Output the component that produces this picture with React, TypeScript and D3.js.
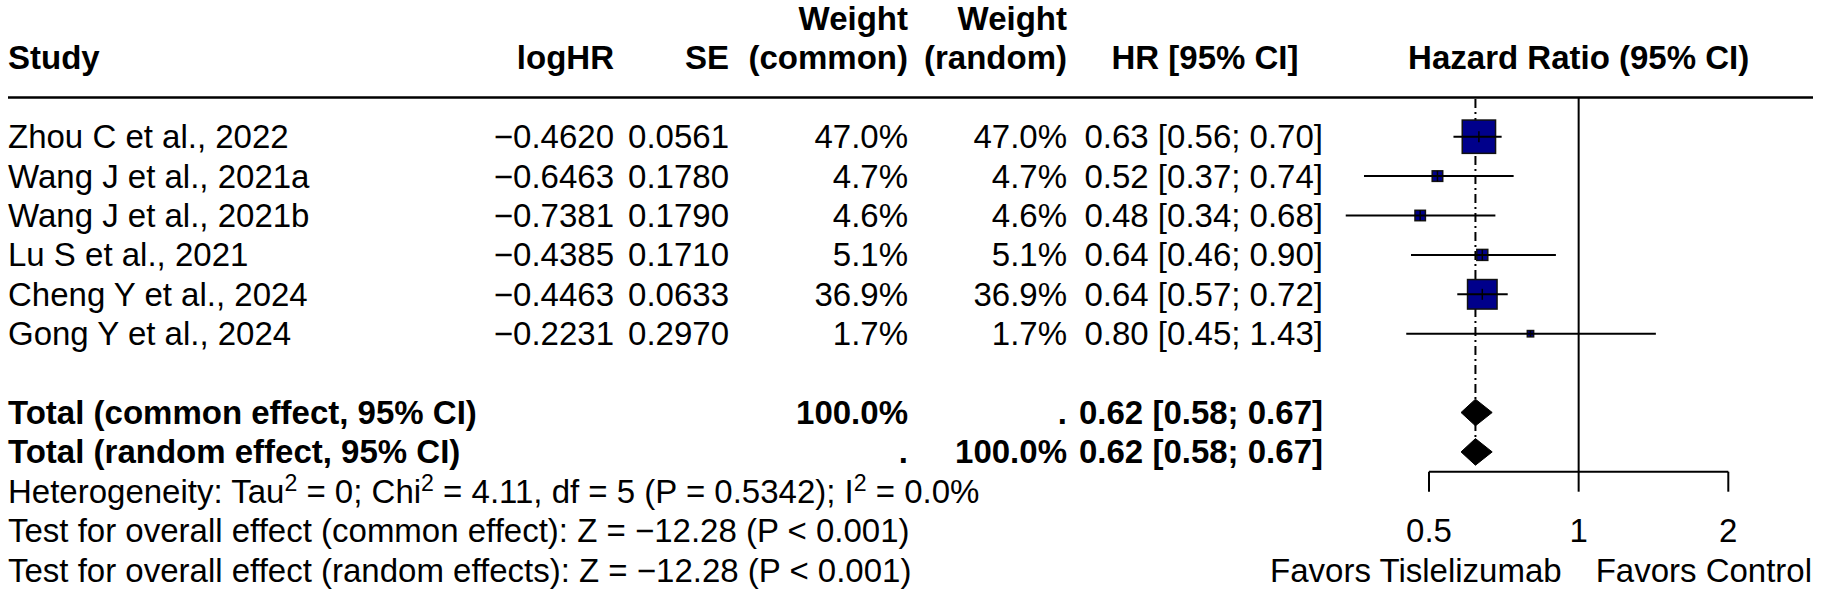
import React from "react";
import * as d3 from "d3";

// ---------- data ----------
const studies = [
  "Zhou C et al., 2022",
  "Wang J et al., 2021a",
  "Wang J et al., 2021b",
  "Lu S et al., 2021",
  "Cheng Y et al., 2024",
  "Gong Y et al., 2024",
];
const logHR = [-0.462, -0.6463, -0.7381, -0.4385, -0.4463, -0.2231];
const seVals = [0.0561, 0.178, 0.179, 0.171, 0.0633, 0.297];
const weightCommon = [47.0, 4.7, 4.6, 5.1, 36.9, 1.7];
const weightRandom = [47.0, 4.7, 4.6, 5.1, 36.9, 1.7];
const hr = [0.63, 0.52, 0.48, 0.64, 0.64, 0.8];
const lower = [0.56, 0.37, 0.34, 0.46, 0.57, 0.45];
const upper = [0.7, 0.74, 0.68, 0.9, 0.72, 1.43];

const totalLabels = ["Total (common effect, 95% CI)", "Total (random effect, 95% CI)"];
const totalHR = [0.62, 0.62];
const totalLower = [0.58, 0.58];
const totalUpper = [0.67, 0.67];

const axisTicks = [0.5, 1, 2];
const axisTickLabels = ["0.5", "1", "2"];
const labelLeft = "Favors Tislelizumab";
const labelRight = "Favors Control";

// ---------- layout ----------
const W = 1822;
const H = 593;
const FS = 33;
const FONT = "'Liberation Sans', Arial, Helvetica, sans-serif";
const ROW0 = 136.7;
const ROWH = 39.4;
const rowY = (i: number) => ROW0 + ROWH * i;

const COL_STUDY = 8;
const COL_LOGHR = 614;
const COL_SE = 729;
const COL_WC = 908;
const COL_WR = 1067;
const COL_CI = 1323;
const COL_CI_HEAD = 1205;

const x = d3.scaleLog().domain([0.5, 2]).range([1429, 1728.3]);
const sq = d3.scaleSqrt().domain([0, 47]).range([0, 33.3]);

const minus = (s: string) => s.replace("-", "\u2212");
const f2 = (v: number) => v.toFixed(2);
const ciText = (h: number, l: number, u: number) => `${f2(h)} [${f2(l)}; ${f2(u)}]`;

type TP = { x: number; y: number; anchor?: "start" | "middle" | "end"; bold?: boolean; children: React.ReactNode };
const T = ({ x, y, anchor = "start", bold = false, children }: TP) => (
  <text x={x} y={y} dy="0.35em" textAnchor={anchor} fontWeight={bold ? "bold" : "normal"}>
    {children}
  </text>
);

const SUP = 12;

export default function App() {
  const x1 = x(1);
  const xCommon = x(totalHR[0]);
  const axisY = 471.7;
  return (
    <svg
      width={W}
      height={H}
      viewBox={`0 0 ${W} ${H}`}
      style={{ position: "absolute", left: 0, top: 0, display: "block", background: "#fff" }}
      fontFamily={FONT}
      fontSize={FS}
      fill="#000"
    >
      <rect x={0} y={0} width={W} height={H} fill="#fff" />
      {/* headers */}
      <T x={COL_STUDY} y={rowY(-2)} bold>Study</T>
      <T x={COL_LOGHR} y={rowY(-2)} anchor="end" bold>logHR</T>
      <T x={COL_SE} y={rowY(-2)} anchor="end" bold>SE</T>
      <T x={COL_WC} y={rowY(-3)} anchor="end" bold>Weight</T>
      <T x={COL_WC} y={rowY(-2)} anchor="end" bold>(common)</T>
      <T x={COL_WR} y={rowY(-3)} anchor="end" bold>Weight</T>
      <T x={COL_WR} y={rowY(-2)} anchor="end" bold>(random)</T>
      <T x={COL_CI_HEAD} y={rowY(-2)} anchor="middle" bold>HR [95% CI]</T>
      <T x={x1} y={rowY(-2)} anchor="middle" bold>Hazard Ratio (95% CI)</T>
      <line x1={8} x2={1813} y1={97.5} y2={97.5} stroke="#000" strokeWidth={2.5} />

      {/* reference line */}
      <line x1={x1} x2={x1} y1={97.5} y2={axisY} stroke="#000" strokeWidth={2} />
      {/* summary line */}
      <line x1={xCommon} x2={xCommon} y1={99} y2={rowY(8)} stroke="#000" strokeWidth={2} strokeDasharray="9 4 2 4" />

      {/* studies */}
      {studies.map((s, i) => {
        const y = rowY(i);
        const side = sq(weightCommon[i]);
        const cx = x(hr[i]);
        return (
          <g key={s}>
            <T x={COL_STUDY} y={y}>{s}</T>
            <T x={COL_LOGHR} y={y} anchor="end">{minus(logHR[i].toFixed(4))}</T>
            <T x={COL_SE} y={y} anchor="end">{seVals[i].toFixed(4)}</T>
            <T x={COL_WC} y={y} anchor="end">{weightCommon[i].toFixed(1) + "%"}</T>
            <T x={COL_WR} y={y} anchor="end">{weightRandom[i].toFixed(1) + "%"}</T>
            <T x={COL_CI} y={y} anchor="end">{ciText(hr[i], lower[i], upper[i])}</T>
            <rect x={cx - side / 2} y={y - side / 2} width={side} height={side} fill="#00008B" stroke="#111" strokeWidth={1.5} />
            <line x1={x(lower[i])} x2={x(upper[i])} y1={y} y2={y} stroke="#000" strokeWidth={2} />
            <line x1={cx} x2={cx} y1={y - Math.min(side, 11) / 2} y2={y + Math.min(side, 11) / 2} stroke="#000" strokeWidth={1.5} />
          </g>
        );
      })}

      {/* totals */}
      {totalLabels.map((lab, k) => {
        const y = rowY(7 + k);
        const cx = x(totalHR[k]);
        const lo = x(totalLower[k]);
        const hi = x(totalUpper[k]);
        const hh = 13.3;
        return (
          <g key={lab}>
            <T x={COL_STUDY} y={y} bold>{lab}</T>
            <T x={COL_WC} y={y} anchor="end" bold>{k === 0 ? "100.0%" : "."}</T>
            <T x={COL_WR} y={y} anchor="end" bold>{k === 1 ? "100.0%" : "."}</T>
            <T x={COL_CI} y={y} anchor="end" bold>{ciText(totalHR[k], totalLower[k], totalUpper[k])}</T>
            <polygon points={`${lo},${y} ${cx},${y - hh} ${hi},${y} ${cx},${y + hh}`} fill="#000" stroke="#000" strokeWidth={1} />
          </g>
        );
      })}

      {/* heterogeneity & tests */}
      <text x={COL_STUDY} y={rowY(9)} dy="0.35em">
        <tspan>Heterogeneity: Tau</tspan>
        <tspan dy={-SUP} fontSize={FS * 0.7}>2</tspan>
        <tspan dy={SUP}> = 0; Chi</tspan>
        <tspan dy={-SUP} fontSize={FS * 0.7}>2</tspan>
        <tspan dy={SUP}> = 4.11, df = 5 (P = 0.5342); I</tspan>
        <tspan dy={-SUP} fontSize={FS * 0.7}>2</tspan>
        <tspan dy={SUP}> = 0.0%</tspan>
      </text>
      <T x={COL_STUDY} y={rowY(10)}>Test for overall effect (common effect): Z = {"\u2212"}12.28 (P &lt; 0.001)</T>
      <T x={COL_STUDY} y={rowY(11)}>Test for overall effect (random effects): Z = {"\u2212"}12.28 (P &lt; 0.001)</T>

      {/* axis */}
      <line x1={x(0.5)} x2={x(2)} y1={axisY} y2={axisY} stroke="#000" strokeWidth={2} />
      {axisTicks.map((t, i) => (
        <g key={t}>
          <line x1={x(t)} x2={x(t)} y1={axisY} y2={axisY + 20} stroke="#000" strokeWidth={2} />
          <T x={x(t)} y={rowY(10)} anchor="middle">{axisTickLabels[i]}</T>
        </g>
      ))}
      <T x={x1 - 17} y={rowY(11)} anchor="end">{labelLeft}</T>
      <T x={x1 + 17} y={rowY(11)} anchor="start">{labelRight}</T>
    </svg>
  );
}
